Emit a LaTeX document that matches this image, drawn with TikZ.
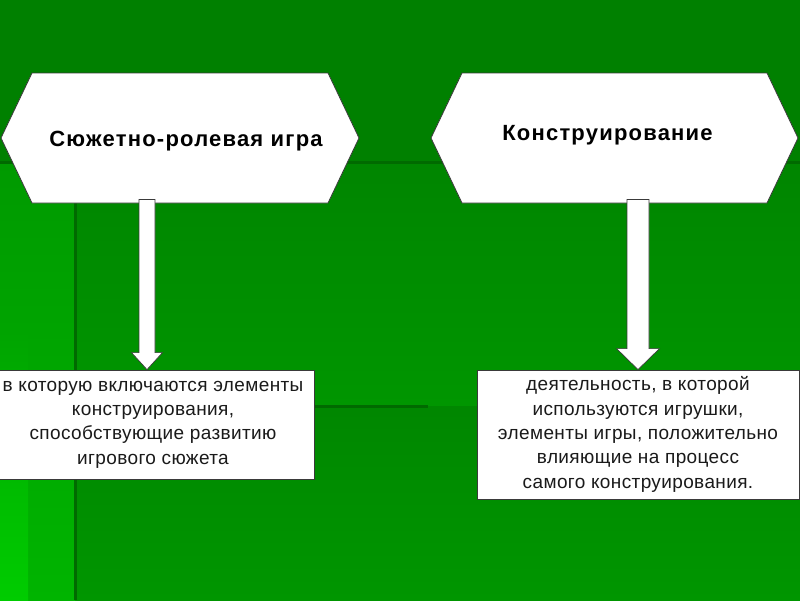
\documentclass[tikz,border=0pt]{standalone}
\usepackage{fontspec}
\setmainfont{Liberation Sans}
\newfontfamily\headfont[LetterSpace=5.5]{Liberation Sans}
\newfontfamily\bodyfont[LetterSpace=2]{Liberation Sans}
\usetikzlibrary{shapes.symbols,calc}
\definecolor{bgtop}{HTML}{008000}
\definecolor{bgmid}{HTML}{008500}
\definecolor{bglow}{HTML}{009600}
\definecolor{bgside}{HTML}{009A00}
\definecolor{bgsidelow}{HTML}{00B400}
\definecolor{bgstrip}{HTML}{00CC00}
\definecolor{bgline}{HTML}{006A00}
\definecolor{rim}{HTML}{3A3A3A}
\definecolor{ink}{HTML}{1A1A1A}
\begin{document}
\begin{tikzpicture}[x=1pt,y=1pt]
\tikzstyle{every node}+=[inner sep=0pt]
\tikzstyle{sign}=[signal, signal to=west and east, signal pointer angle=129, draw=rim, fill=white, line width=0.8pt, minimum height=130pt]
\tikzstyle{signtxt}=[font=\headfont\bfseries\fontsize{22}{26}\selectfont]
\tikzstyle{txtbox}=[rectangle, draw=rim, fill=white, line width=0.8pt, align=center, text=ink, font=\bodyfont\fontsize{19}{24.3}\selectfont, minimum width=322pt]
\tikzstyle{blockarrow}=[draw=rim, fill=white, line width=0.7pt]
\tikzstyle{stripe}=[bgline, line width=3pt]
\useasboundingbox (0,0) rectangle (800,-600);
\fill [bgtop] (0,0) rectangle (800,-600);
\shade [top color=bgmid, bottom color=bglow] (75,-162) rectangle (800,-406);
\shade [top color=bgmid!90!bglow, bottom color=bglow] (75,-406) rectangle (800,-600);
\shade [top color=bgside, bottom color=bgsidelow] (0,-162) rectangle (75,-600);
\shade [top color=bgsidelow!38!bgside, bottom color=bgstrip] (0,-330) rectangle (28,-600);
\draw [stripe] (0,-162) -- (800,-162);
\draw [stripe] (75,-162) -- (75,-600);
\draw [stripe] (75,-406) -- (428,-406);
\node [sign, minimum width=358pt] (hexL) at (180,-138) {};
\node [sign, minimum width=367pt] (hexR) at (614.5,-138) {};
\node [signtxt] (capL) at ($(hexL.center)+(6,-3)$) {Сюжетно-ролевая игра};
\node [signtxt] (capR) at ($(hexR.center)+(-7,3)$) {Конструирование};
\node [txtbox, minimum height=109pt] (boxL) at (153,-424.5) {в которую включаются элементы\\конструирования,\\способствующие развитию\\игрового сюжета};
\node [txtbox, minimum height=129pt] (boxR) at (638,-434.5) {деятельность, в которой\\используются игрушки,\\элементы игры, положительно\\влияющие на процесс\\самого конструирования.};
\coordinate (tipL) at ($(boxL.north)+(-6,0)$);
\coordinate (topL) at (hexL.south -| tipL);
\coordinate (tipR) at (boxR.north);
\coordinate (topR) at (hexR.south -| tipR);
\draw [blockarrow] ($(topL)+(-8,4)$) -- ($(tipL)+(-8,17)$) -- ($(tipL)+(-15.5,17)$) -- (tipL) -- ($(tipL)+(15.5,17)$) -- ($(tipL)+(8,17)$) -- ($(topL)+(8,4)$) -- cycle;
\draw [blockarrow] ($(topR)+(-11,4)$) -- ($(tipR)+(-11,21)$) -- ($(tipR)+(-21.5,21)$) -- (tipR) -- ($(tipR)+(21.5,21)$) -- ($(tipR)+(11,21)$) -- ($(topR)+(11,4)$) -- cycle;
\end{tikzpicture}
\end{document}
